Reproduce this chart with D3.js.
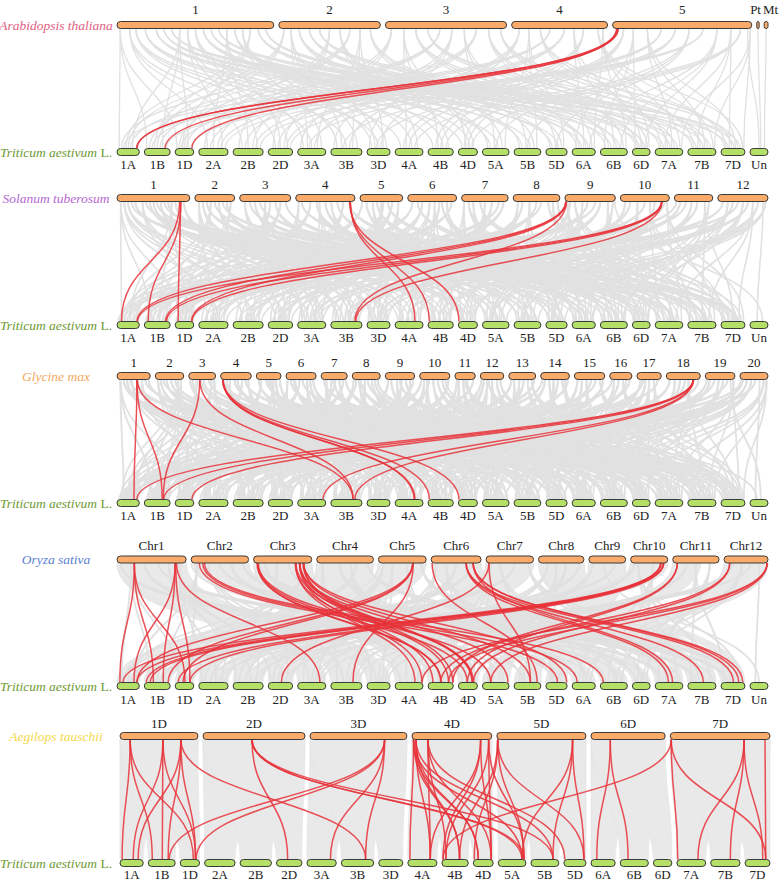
<!DOCTYPE html>
<html><head><meta charset="utf-8">
<script src="https://cdn.jsdelivr.net/npm/d3@7"></script>
<style>body{margin:0;background:#fff}svg{display:block}</style>
</head><body>
<svg id="chart" width="780" height="883"></svg>
<script>
// ---------------- DATA ----------------
const wheatChrs = ["1A","1B","1D","2A","2B","2D","3A","3B","3D","4A","4B","4D","5A","5B","5D","6A","6B","6D","7A","7B","7D","Un"];
const wheatLens = [594,689,495,780,801,651,750,830,615,744,673,509,709,713,566,618,720,473,736,750,638,480];
const wheatChrsNoUn = ["1A","1B","1D","2A","2B","2D","3A","3B","3D","4A","4B","4D","5A","5B","5D","6A","6B","6D","7A","7B","7D"];

const athChrs = ["1","2","3","4","5","Pt","Mt"];
const athLens = [30.4,19.7,23.5,18.6,27.0,0.45,0.75];
const stuChrs = ["1","2","3","4","5","6","7","8","9","10","11","12"];
const stuLens = [88.7,48.6,62.2,72.2,52.1,59.5,56.8,56.9,61.5,59.7,46.8,61.2];
const gmaChrs = ["1","2","3","4","5","6","7","8","9","10","11","12","13","14","15","16","17","18","19","20"];
const gmaLens = [56.8,48.6,45.8,52.4,42.2,51.4,44.6,47.8,50.2,51.6,34.8,40.1,45.9,49.0,51.8,37.9,41.6,58.0,50.6,47.9];
const osaChrs = ["Chr1","Chr2","Chr3","Chr4","Chr5","Chr6","Chr7","Chr8","Chr9","Chr10","Chr11","Chr12"];
const osaLens = [43.3,35.9,36.4,35.5,29.9,31.2,29.7,28.4,23.0,23.2,29.0,27.5];
const ataChrs = ["1D","2D","3D","4D","5D","6D","7D"];
const ataLens = [498,651,619,510,569,474,637];

// gray links: topChr/topPct/wheatGroup/wheatPct (group expands to A,B,D homeologs; U = Un)
const athGray = "1/2/1/10,1/8/2/30,1/12/3/50,1/18/4/20,1/25/5/60,1/30/6/40,1/35/7/30,1/40/1/70,1/45/2/80,1/50/3/20,1/55/5/30,1/60/6/70,1/65/7/80,1/70/2/50,1/75/4/60,1/80/3/85,1/85/1/40,1/90/6/20,1/95/7/55,2/5/1/50,2/12/3/35,2/20/5/20,2/30/6/60,2/40/7/15,2/50/2/20,2/60/4/80,2/70/1/20,2/80/3/70,2/90/5/75,3/5/2/65,3/15/4/40,3/25/6/30,3/35/7/70,3/45/1/60,3/55/3/10,3/65/5/45,3/75/2/40,3/85/6/85,3/95/7/45,4/8/3/60,4/18/5/85,4/30/7/20,4/40/1/30,4/55/2/75,4/65/6/50,4/75/4/30,4/90/7/90,5/8/4/50,5/15/6/15,5/25/7/60,5/35/2/90,5/45/3/40,5/55/5/50,5/65/1/85,5/75/6/75,5/85/7/35,5/92/4/70,5/97/U/50,Pt/50/U/60,Mt/50/U/80,5/99/7/95,4/95/6/95";
const stuGray = "1/5/1/20,1/15/3/40,1/25/5/60,1/35/2/30,1/45/4/50,1/55/6/70,1/65/7/20,1/75/1/60,1/92/3/80,2/10/2/50,2/30/5/20,2/50/6/40,2/70/7/70,2/90/1/85,3/10/3/15,3/30/4/30,3/50/2/70,3/70/5/40,3/90/6/85,4/10/7/45,4/25/1/35,4/40/3/65,4/60/4/75,4/80/2/10,5/15/5/80,5/40/6/20,5/65/7/60,5/90/3/30,6/10/1/10,6/30/2/85,6/55/4/15,6/80/5/50,7/15/6/55,7/40/7/85,7/65/3/55,7/90/2/40,8/10/4/60,8/35/5/15,8/60/1/45,8/85/6/30,9/20/7/30,9/45/2/60,9/70/3/90,9/95/5/70,10/10/4/85,10/35/6/65,10/60/7/10,10/90/1/75,11/15/3/45,11/45/5/35,11/80/7/50,12/10/2/20,12/30/4/40,12/50/6/10,12/70/7/75,12/90/U/40,12/95/5/90,11/90/6/90,10/95/7/95,9/99/U/70,1/50/4/10,2/20/3/90,3/60/1/90,4/50/5/10,5/55/2/55,6/65/3/5,7/5/4/90,8/95/7/5,9/5/6/60,10/50/2/95,11/5/1/5,12/60/3/70,1/10/2/65,1/20/6/15,1/40/7/65,1/60/3/25,1/70/5/85,1/80/4/25,2/40/1/55,2/60/3/60,2/80/4/65,3/20/6/60,3/40/7/35,3/80/1/25,4/5/2/85,4/35/5/55,4/70/6/45,4/90/7/10,5/5/1/70,5/30/4/85,5/50/3/85,5/75/2/25,6/20/7/55,6/45/3/45,6/70/6/5,6/90/1/55,7/25/5/65,7/50/4/45,7/80/1/15,8/20/3/15,8/50/2/75,8/75/7/65,9/10/4/20,9/35/5/40,9/60/1/30,9/85/6/80,10/20/3/60,10/70/5/25,11/30/2/45,11/60/4/70,12/20/6/85,12/40/1/95,12/80/5/30";
const gmaGray = "1/10/1/30,1/30/3/60,1/60/5/20,1/85/7/50,2/10/2/40,2/40/4/70,2/70/6/30,2/90/1/80,3/15/3/20,3/45/5/55,3/75/7/85,3/95/2/65,4/20/4/10,4/45/6/60,4/70/1/50,4/90/3/40,5/10/5/75,5/40/7/25,5/70/2/15,5/95/4/45,6/15/6/80,6/45/1/15,6/70/3/85,6/90/5/35,7/10/7/60,7/40/2/90,7/70/4/30,7/95/6/15,8/15/1/65,8/45/3/10,8/70/5/90,8/90/7/40,9/10/2/25,9/40/4/55,9/70/6/45,9/95/1/90,10/15/3/75,10/45/5/45,10/75/7/15,10/95/2/75,11/20/4/90,11/60/6/25,11/90/1/25,12/15/3/50,12/50/5/10,12/85/7/70,13/10/2/55,13/40/4/20,13/70/6/65,13/95/1/40,14/15/3/30,14/45/5/65,14/75/7/35,14/95/2/5,15/10/4/65,15/40/6/50,15/70/1/70,15/95/3/95,16/20/5/30,16/60/7/90,16/90/2/85,17/15/4/35,17/50/6/90,17/85/1/10,18/10/3/65,18/40/5/50,18/65/7/55,18/95/2/45,19/15/4/80,19/45/6/20,19/75/1/55,19/95/7/75,20/10/3/25,20/40/5/85,20/70/U/30,20/95/7/95,20/85/6/70,19/85/U/60,1/45/2/85,2/55/5/95,3/30/1/45,4/10/7/5,5/60/3/55,6/30/4/95,7/55/1/35,8/30/6/5,9/55/3/35,10/30/2/30,11/40/5/60,12/35/7/25,13/55/3/80,14/30/6/35,15/55/2/60,16/40/4/15,17/35/5/5,18/80/1/95,19/30/2/15,20/25/4/50,1/20/4/25,1/40/6/55,1/75/2/35,1/95/5/80,2/20/3/85,2/30/7/10,2/80/1/20,3/5/4/40,3/55/6/75,3/85/1/60,4/30/2/70,4/55/5/20,4/80/7/65,5/20/1/85,5/50/6/10,5/80/3/65,6/5/2/50,6/25/5/75,6/55/7/45,6/80/4/20,7/20/3/45,7/50/5/25,7/85/1/95,8/5/2/20,8/25/4/75,8/55/7/85,8/80/6/60,9/20/5/60,9/50/7/30,9/85/3/15,10/5/1/50,10/25/4/35,10/60/6/85,10/85/U/40,11/10/3/90,11/50/7/60,12/5/2/95,12/30/4/65,12/70/6/40,13/20/5/50,13/85/7/20,14/5/1/75,14/60/4/10,14/85/6/55,15/25/5/15,15/85/7/80,16/10/1/30,16/75/3/50,17/25/2/55,17/70/7/45,18/25/6/25,18/55/4/90,19/5/3/80,19/60/5/40,20/55/2/70,20/5/1/65";
// gray synteny blocks: topChr/topStart/topEnd/wheatGroup/wheatStart/wheatEnd
const osaBlocks = "Chr1/0/100/3/0/100,Chr2/0/100/6/0/100,Chr3/0/100/4/0/100,Chr4/0/100/2/0/55,Chr5/0/100/1/0/50,Chr6/0/100/7/0/70,Chr7/0/100/2/55/100,Chr8/0/100/7/70/100,Chr9/0/100/5/55/100,Chr10/0/100/1/50/100,Chr11/0/60/4/80/100,Chr12/0/100/5/0/55";
const osaGray = "Chr1/5/5/40,Chr2/50/7/20,Chr3/20/5/30,Chr4/70/1/30,Chr5/30/3/70,Chr6/50/2/40,Chr7/30/6/50,Chr8/60/4/60,Chr9/40/U/50,Chr10/20/7/80,Chr11/80/6/80,Chr12/80/U/30,Chr1/90/2/10,Chr12/60/1/60,Chr1/20/1/20,Chr1/40/4/20,Chr1/60/6/80,Chr1/75/2/60,Chr2/10/1/80,Chr2/30/3/40,Chr2/70/5/70,Chr2/90/7/30,Chr3/40/2/80,Chr3/60/6/20,Chr3/90/1/50,Chr4/10/3/20,Chr4/40/5/80,Chr4/90/7/60,Chr5/10/2/20,Chr5/60/4/40,Chr5/90/6/60,Chr6/10/3/50,Chr6/30/5/40,Chr6/80/1/70,Chr7/10/4/80,Chr7/60/1/20,Chr7/90/7/40,Chr8/20/3/80,Chr8/40/5/20,Chr8/90/2/90,Chr9/10/3/60,Chr9/70/1/90,Chr10/10/2/40,Chr10/60/6/30,Chr11/30/3/90,Chr11/50/7/10,Chr12/20/2/70,Chr12/40/6/60,Chr4/60/4/90,Chr3/10/7/90";
const ataBlocks = "1D/0/100/1/0/100,2D/0/100/2/0/100,3D/0/100/3/0/100,4D/0/100/4/0/100,5D/0/100/5/0/100,6D/0/100/6/0/100,7D/0/100/7/0/100";

// red links: topChr/topPct/wheatChr/wheatPct
const athRed = "5/3/1A/88,5/4/1B/80,5/3/1D/90,5/4/1A/90";
const stuRed = "1/86/1A/20,1/88/1B/15,1/87/1D/16,4/92/4A/71,4/92/4B/5,4/91/4D/3,9/2/1A/90,9/2/1B/82,9/3/1D/88,9/3/3B/77,10/84/1A/92,10/84/1B/86,10/85/1D/90,10/85/3B/80";
const gmaRed = "1/60/1A/76,1/60/1B/69,1/61/3B/71,3/41/1B/73,3/41/3B/72,4/7/4A/71,4/7/4B/5,4/8/4D/3,4/8/4A/68,18/79/1A/89,18/79/1B/75,18/80/1D/90,18/79/3A/90,18/80/3B/77";
const osaRed = "Chr1/25/1A/13,Chr1/25/1B/35,Chr1/25/1D/53,Chr1/84/1A/76,Chr1/84/1B/73,Chr1/85/1D/79,Chr1/86/3A/79,Chr2/14/5D/55,Chr2/20/6A/22,Chr2/23/6B/11,Chr3/7/4B/50,Chr3/7/4D/47,Chr3/8/5A/31,Chr3/6/4B/52,Chr3/72/4A/71,Chr3/72/4B/19,Chr3/73/4D/74,Chr3/79/4A/96,Chr3/79/4B/81,Chr3/80/4D/79,Chr3/79/5A/96,Chr3/86/4B/98,Chr3/86/5B/61,Chr3/86/5D/98,Chr3/85/4D/72,Chr5/72/1A/89,Chr5/72/1B/92,Chr5/72/1D/42,Chr5/73/3B/71,Chr6/2/5B/86,Chr6/70/7A/48,Chr6/70/7B/55,Chr6/70/7D/52,Chr6/84/7A/63,Chr6/84/7D/74,Chr6/84/7D/91,Chr7/6/2D/54,Chr7/6/5B/61,Chr10/81/1A/27,Chr10/81/1B/8,Chr10/82/1D/16,Chr10/89/1B/23,Chr10/89/1D/79,Chr10/88/1A/89,Chr11/10/4D/47,Chr11/10/4B/98,Chr12/13/4B/50,Chr12/13/4D/79,Chr12/98/4A/96,Chr12/98/4B/81,Chr12/98/5A/31";
const ataRed = "1D/13/1A/9,1D/13/1B/15,1D/13/1D/68,1D/55/1A/57,1D/55/1B/52,1D/55/1D/79,1D/78/1A/78,1D/78/1B/74,1D/78/1D/79,1D/78/3B/75,2D/48/2D/44,2D/48/5A/86,2D/48/5A/93,2D/48/5B/79,3D/77/1B/78,3D/77/1D/82,3D/77/3A/80,3D/77/3B/75,4D/2/4A/7,4D/2/4B/67,4D/2/4D/25,4D/2/5A/86,4D/5/4A/77,4D/5/4B/67,4D/5/4D/25,4D/5/5B/79,4D/20/4A/77,4D/20/4B/15,4D/20/4D/90,4D/20/5D/4,4D/86/4A/77,4D/86/4B/4,4D/86/4D/90,4D/96/4B/15,4D/96/4D/90,4D/96/5A/93,5D/1/4B/67,5D/1/4D/5,5D/1/5A/93,5D/1/5D/91,5D/85/5A/86,5D/85/5B/79,5D/85/5D/91,6D/26/6A/24,6D/26/6B/28,7D/1/7A/3,7D/1/7D/83,7D/1/4B/4,7D/74/7A/73,7D/74/7B/67,7D/74/7D/71,7D/95/7D/83";

// ---------------- LAYOUT ----------------
const svg = d3.select("#chart");
const FONT = "'Liberation Serif','Times New Roman',serif";
const ORANGE = "#faab6a", GREEN = "#b5e067", STROKE = "#3a3a3a";
const GRAY = "#e1e1e1", RED = "#e8333a";

const panels = [
  {name:"Arabidopsis thaliana", color:"#e0607f", chrs:athChrs, lens:athLens, gray:athGray, gw:1.3, red:athRed, wheat:wheatChrs, wl:wheatLens, yT:25, yB:152, lT:-11, lB:16.5, x0:117, x1:768},
  {name:"Solanum tuberosum", color:"#b467d2", chrs:stuChrs, lens:stuLens, gray:stuGray, gw:1.6, red:stuRed, wheat:wheatChrs, wl:wheatLens, yT:198, yB:325, lT:-9, lB:17, x0:117, x1:768},
  {name:"Glycine max", color:"#f2a95c", chrs:gmaChrs, lens:gmaLens, gray:gmaGray, gw:1.8, red:gmaRed, wheat:wheatChrs, wl:wheatLens, yT:376, yB:503, lT:-9, lB:17, x0:117, x1:768},
  {name:"Oryza sativa", color:"#5b7fcf", chrs:osaChrs, lens:osaLens, gray:osaGray, gw:1.8, blocks:osaBlocks, red:osaRed, wheat:wheatChrs, wl:wheatLens, yT:559.5, yB:686, lT:-9.5, lB:18, x0:117, x1:768},
  {name:"Aegilops tauschii", color:"#f4d94a", chrs:ataChrs, lens:ataLens, gray:"", gw:1.5, blocks:ataBlocks, red:ataRed, wheat:wheatChrsNoUn, wl:wheatLens.slice(0,21), yT:736, yB:863, lT:-8, lB:15.5, x0:120, x1:770}
];

const BAR_H = 7, GAP = 5;
function layoutRow(names, lens, x0, x1) {
  const total = d3.sum(lens);
  const avail = (x1 - x0) - GAP * (names.length - 1);
  const k = d3.scaleLinear().domain([0, total]).range([0, avail]);
  let cum = 0;
  const m = new Map();
  names.forEach((n, i) => {
    const s = x0 + k(cum) + GAP * i, e = s + k(lens[i]);
    m.set(n, {name:n, s, e, sc:d3.scaleLinear().domain([0,100]).range([s,e])});
    cum += lens[i];
  });
  return m;
}
const expand = g => g === "U" ? ["Un"] : [g+"A", g+"B", g+"D"];
const parse = str => str ? str.split(",").map(t => t.split("/")) : [];
const linkGen = d3.linkVertical().x(d => d[0]).y(d => d[1]);

const gGray = svg.append("g"), gRed = svg.append("g"), gBars = svg.append("g"), gText = svg.append("g");

panels.forEach(P => {
  const top = layoutRow(P.chrs, P.lens, P.x0, P.x1);
  const bot = layoutRow(P.wheat, P.wl, P.x0, P.x1);
  const y1 = P.yT + BAR_H/2, y2 = P.yB - BAR_H/2, ym = (y1+y2)/2;

  // gray blocks (ribbons)
  parse(P.blocks).forEach(([tc, ts, te, g, bs, be]) => {
    const T = top.get(tc);
    expand(g).forEach(w => {
      const B = bot.get(w); if (!B || !T) return;
      const p = d3.path();
      const a = T.sc(+ts), b = T.sc(+te), c = B.sc(+bs), d = B.sc(+be);
      p.moveTo(a, y1); p.bezierCurveTo(a, ym, c, ym, c, y2);
      p.lineTo(d, y2); p.bezierCurveTo(d, ym, b, ym, b, y1); p.closePath();
      gGray.append("path").attr("d", p.toString()).attr("fill", "#e9e9e9").attr("stroke", "#e2e2e2").attr("stroke-width", 0.6);
    });
  });
  // gray lines
  parse(P.gray).forEach(([tc, tp, g, wp]) => {
    const T = top.get(tc);
    expand(g).forEach(w => {
      const B = bot.get(w); if (!B || !T) return;
      gGray.append("path").attr("d", linkGen({source:[T.sc(+tp), y1], target:[B.sc(+wp), y2]}))
        .attr("fill","none").attr("stroke", GRAY).attr("stroke-width", P.gw);
    });
  });
  // red lines
  parse(P.red).forEach(([tc, tp, w, wp]) => {
    const T = top.get(tc), B = bot.get(w); if (!B || !T) return;
    gRed.append("path").attr("d", linkGen({source:[T.sc(+tp), y1], target:[B.sc(+wp), y2]}))
      .attr("fill","none").attr("stroke", RED).attr("stroke-opacity", 0.85).attr("stroke-width", 1.5);
  });

  // bars
  const drawRow = (m, y, fill, labOff) => {
    for (const c of m.values()) {
      const w = Math.max(c.e - c.s, 2);
      gBars.append("rect").attr("x", c.s).attr("y", y - BAR_H/2).attr("width", w).attr("height", BAR_H)
        .attr("rx", Math.min(3.5, w/2)).attr("fill", fill).attr("stroke", STROKE).attr("stroke-width", 1);
      let tx = (c.s + c.e)/2, anchor = "middle";
      if (c.name === "Pt") { tx += 3; anchor = "end"; }
      if (c.name === "Mt") { tx -= 3; anchor = "start"; }
      gText.append("text").attr("x", tx).attr("y", y + labOff).attr("text-anchor", anchor)
        .attr("font-family", FONT).attr("font-size", 13).attr("fill", "#222").text(c.name);
    }
  };
  drawRow(top, P.yT, ORANGE, P.lT);
  drawRow(bot, P.yB, GREEN, P.lB);

  // species labels
  gText.append("text").attr("x", 56).attr("y", P.yT + 4.5).attr("text-anchor","middle")
    .attr("font-family", FONT).attr("font-size", 13.5).attr("font-style","italic").attr("fill", P.color).text(P.name);
  const t = gText.append("text").attr("x", 56).attr("y", P.yB + 5).attr("text-anchor","middle")
    .attr("font-family", FONT).attr("font-size", 13.5).attr("fill", "#6f9a34");
  t.append("tspan").attr("font-style","italic").text("Triticum aestivum");
  t.append("tspan").text(" L.");
});
</script>
</body></html>
